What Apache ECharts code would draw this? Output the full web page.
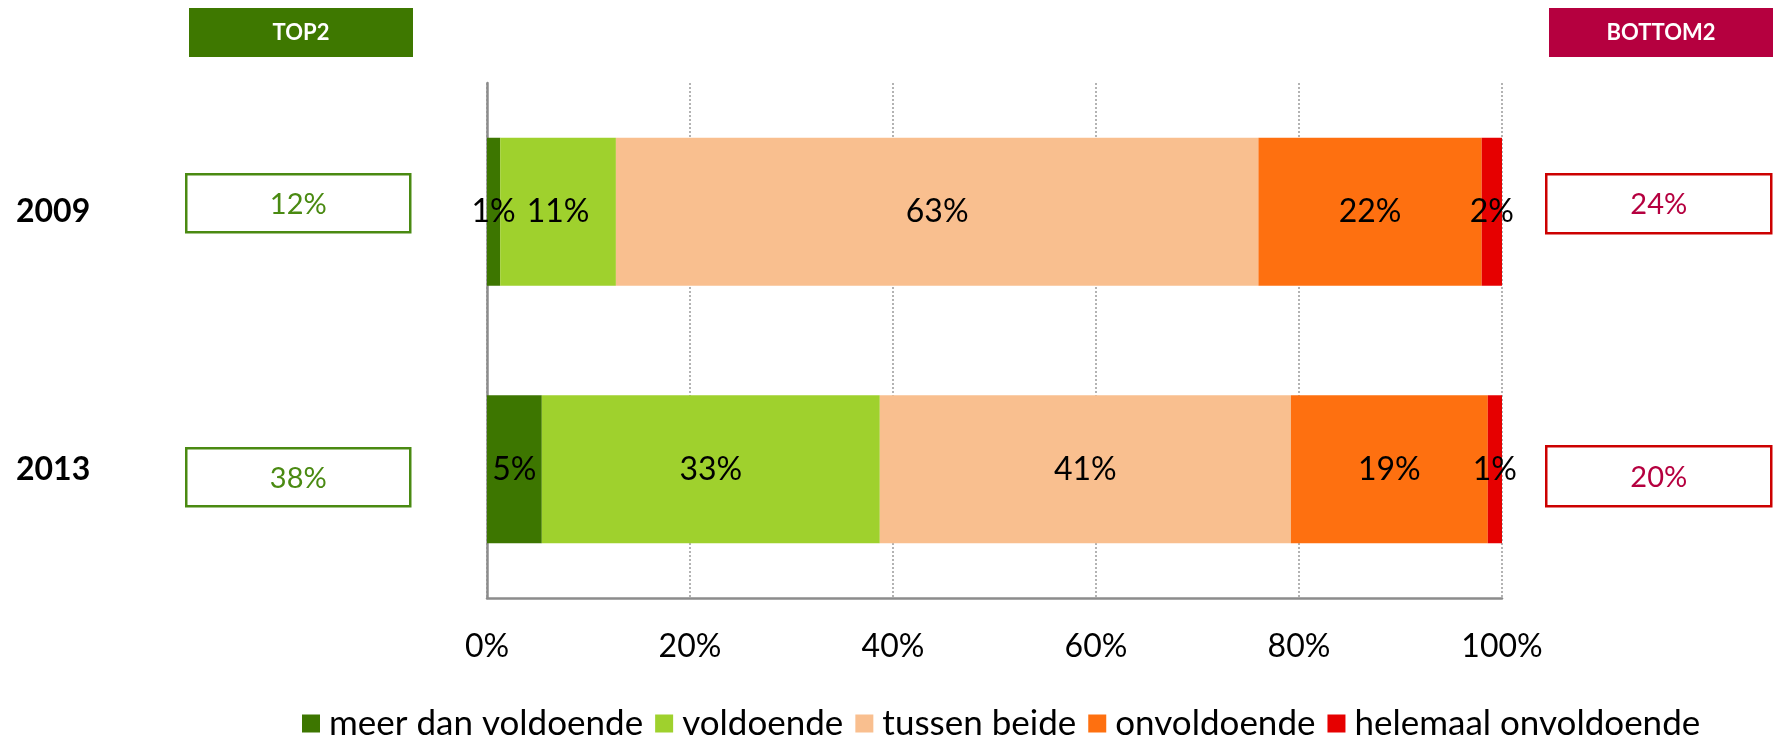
<!DOCTYPE html>
<html>
<head>
<meta charset="utf-8">
<script src="https://cdn.jsdelivr.net/npm/echarts@6/dist/echarts.min.js"></script>
<style>
html,body{margin:0;padding:0;background:#fff;}
#chart{width:1773px;height:749px;}
</style>
</head>
<body>
<div id="chart"></div>
<script>
// ---- data ----
const categories = ['2009', '2013'];
const seriesNames = ['meer dan voldoende', 'voldoende', 'tussen beide', 'onvoldoende', 'helemaal onvoldoende'];
const meerDanVoldoende = [1.3, 5.4];
const voldoende = [11.4, 33.3];
const tussenBeide = [63.3, 40.5];
const onvoldoende = [22.0, 19.4];
const helemaalOnvoldoende = [2.0, 1.4];
const top2 = [12, 38];
const bottom2 = [24, 20];
const headerLabels = ['TOP2', 'BOTTOM2'];

const seriesValues = [meerDanVoldoende, voldoende, tussenBeide, onvoldoende, helemaalOnvoldoende];
const colors = ['#3d7600', '#9fd12d', '#f9bf8f', '#fe7010', '#e60000'];
const FONT = 'Lato';

const chart = echarts.init(document.getElementById('chart'), null, {renderer: 'canvas'});

const series = seriesNames.map((name, i) => ({
  name: name,
  type: 'bar',
  stack: 'total',
  barWidth: 148,
  data: seriesValues[i],
  itemStyle: {color: colors[i]},
  label: {
    show: true,
    position: 'inside',
    color: '#000',
    fontFamily: FONT,
    fontSize: 32,
    formatter: p => Math.round(p.value) + '%'
  },
  emphasis: {disabled: true}
}));

function valueBox(x, y, w, h, text, border, color) {
  return {
    type: 'group',
    left: x, top: y,
    children: [
      {type: 'rect', shape: {x: 0, y: 0, width: w, height: h},
       style: {fill: '#fff', stroke: border, lineWidth: 2.5}},
      {type: 'text', x: w / 2, y: h / 2 + 1,
       style: {text: text, fill: color, font: '29px ' + FONT, align: 'center', verticalAlign: 'middle'}}
    ]
  };
}
function headerBox(x, y, w, h, text, fill) {
  return {
    type: 'group',
    left: x, top: y,
    children: [
      {type: 'rect', shape: {x: 0, y: 0, width: w, height: h}, style: {fill: fill}},
      {type: 'text', x: w / 2, y: h / 2,
       style: {text: text, fill: '#fff', font: 'bold 22px ' + FONT, align: 'center', verticalAlign: 'middle'}}
    ]
  };
}

const option = {
  backgroundColor: '#fff',
  animation: false,
  textStyle: {fontFamily: FONT},
  grid: {left: 487, right: 271, top: 83, bottom: 151, containLabel: false},
  xAxis: {
    type: 'value',
    min: 0, max: 100, interval: 20,
    axisLine: {show: true, lineStyle: {color: '#8c8c8c', width: 2.5}},
    axisTick: {show: false},
    axisLabel: {color: '#000', fontFamily: FONT, fontSize: 32, margin: 33, formatter: '{value}%'},
    splitLine: {show: true, lineStyle: {color: '#9a9a9a', type: [2, 2], width: 1.5}}
  },
  yAxis: {
    type: 'category',
    data: categories,
    inverse: true,
    axisLine: {show: true, lineStyle: {color: '#8c8c8c', width: 2.5}},
    axisTick: {show: false},
    axisLabel: {color: '#000', fontFamily: FONT, fontSize: 32, fontWeight: 'bold', align: 'left', margin: 471}
  },
  legend: {
    data: seriesNames,
    left: 297,
    top: 701,
    itemWidth: 18,
    itemHeight: 18,
    itemGap: 12,
    icon: 'rect',
    textStyle: {color: '#000', fontFamily: FONT, fontSize: 35, padding: [0, 0, 0, 4]},
    selectedMode: false
  },
  graphic: [
    headerBox(189, 8, 224, 49, headerLabels[0], '#3e7800'),
    headerBox(1549, 8, 224, 49, headerLabels[1], '#b5003f'),
    valueBox(185, 173, 224, 58, top2[0] + '%', '#4a8a12', '#4a8a12'),
    valueBox(185, 447, 224, 58, top2[1] + '%', '#4a8a12', '#4a8a12'),
    valueBox(1545, 173, 225, 59, bottom2[0] + '%', '#cc0000', '#b5003f'),
    valueBox(1545, 445, 225, 60, bottom2[1] + '%', '#cc0000', '#b5003f')
  ],
  series: series
};
chart.setOption(option);
</script>
</body>
</html>
